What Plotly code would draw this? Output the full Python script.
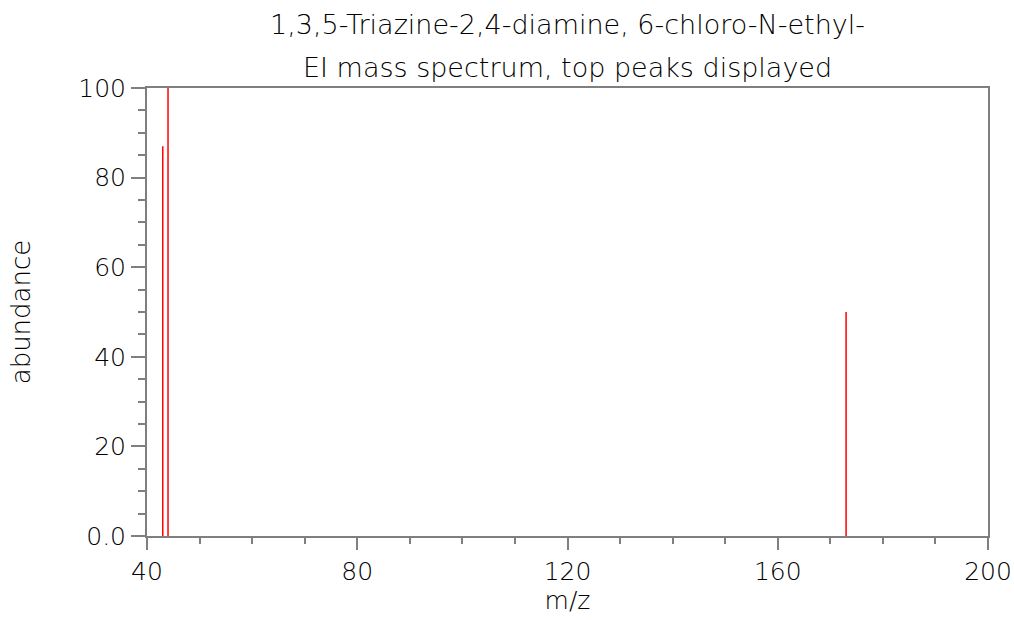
import plotly.graph_objects as go

# Data
mz = [43, 44, 173]
abundance = [87, 100, 50]
x_ticks = [40, 80, 120, 160, 200]
y_ticks = [0, 20, 40, 60, 80, 100]
y_tick_labels = ["0.0", "20", "40", "60", "80", "100"]
title_line1 = "1,3,5-Triazine-2,4-diamine, 6-chloro-N-ethyl-"
title_line2 = "EI mass spectrum, top peaks displayed"

# Build stick segments
xs, ys = [], []
for m, a in zip(mz, abundance):
    xs += [m, m, None]
    ys += [0, a, None]

FONT = "DejaVu Sans"
TXT = "#000000"
AX = "#7f7f7f"
WT = 300

W, H = 1014, 620
ML, MR, MT, MB = 147, 26, 88, 84
plot_h = H - MT - MB

def py(pix):
    # pixel y (from top) -> paper coordinate
    return (H - MB - pix) / plot_h

def f(size):
    return dict(size=size, color=TXT, family=FONT, weight=WT)

fig = go.Figure()
fig.add_trace(go.Scatter(x=xs, y=ys, mode="lines",
                         line=dict(color="#ff0000", width=1.5),
                         hoverinfo="skip", showlegend=False))

fig.update_layout(
    width=W, height=H,
    margin=dict(l=ML, r=MR, t=MT, b=MB),
    paper_bgcolor="white", plot_bgcolor="white",
    font=f(25),
    showlegend=False,
    annotations=[
        dict(text=title_line1, x=0.5, y=py(24), xref="paper", yref="paper",
             yanchor="middle", showarrow=False, font=f(27)),
        dict(text=title_line2, x=0.5, y=py(67), xref="paper", yref="paper",
             yanchor="middle", showarrow=False, font=f(27)),
    ],
)

fig.update_xaxes(
    range=[40, 200], tickvals=x_ticks, ticktext=[str(v) for v in x_ticks],
    showgrid=False, zeroline=False, automargin=False,
    showline=True, linecolor=AX, linewidth=2, mirror=True,
    ticks="outside", ticklen=12, tickwidth=2, tickcolor=AX,
    minor=dict(dtick=10, ticks="outside", ticklen=6, tickwidth=2, tickcolor=AX, showgrid=False),
    tickfont=f(25),
    title=dict(text="m/z", font=f(25), standoff=4),
)
fig.update_yaxes(
    range=[0, 100], tickvals=y_ticks, ticktext=y_tick_labels,
    showgrid=False, zeroline=False, automargin=False,
    showline=True, linecolor=AX, linewidth=2, mirror=True,
    ticks="outside", ticklen=14, tickwidth=2, tickcolor=AX,
    minor=dict(dtick=5, ticks="outside", ticklen=7, tickwidth=2, tickcolor=AX, showgrid=False),
    tickfont=f(25),
    title=dict(text="abundance", font=f(26), standoff=40),
)

fig.write_html("out.html",
               config={"displayModeBar": False},
               post_script="document.body.style.margin='0px';document.body.style.overflow='hidden';")
